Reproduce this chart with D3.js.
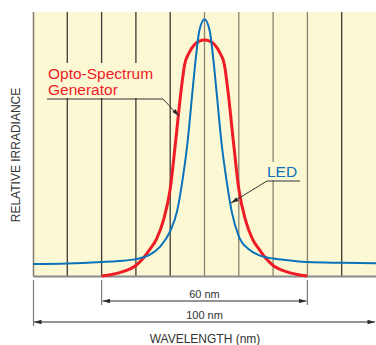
<!DOCTYPE html>
<html>
<head>
<meta charset="utf-8">
<script src="https://cdn.jsdelivr.net/npm/d3@7"></script>
<style>
  body { margin: 0; background: #fff; }
  svg { display: block; font-family: "Liberation Sans", Arial, sans-serif; }
</style>
</head>
<body>
<div id="chart"></div>
<script>
// wavelength (nm) and relative irradiance
var ledNm     = [0, 10, 20, 25, 30, 34, 37, 40, 42, 43.6, 45, 46.5, 47.4, 48.5, 50,
                 51.5, 52.6, 53.5, 55, 56.4, 58, 60, 63, 66, 70, 75, 80, 90, 100];
var ledValues = [0.045, 0.047, 0.053, 0.057, 0.064, 0.08, 0.11, 0.17, 0.245, 0.364, 0.5, 0.7, 0.818, 0.93, 0.973,
                 0.93, 0.818, 0.7, 0.5, 0.364, 0.24, 0.15, 0.1, 0.078, 0.066, 0.059, 0.053, 0.05, 0.048];

var optoNm     = [20, 23, 25, 28, 30, 32, 34, 36, 38, 40, 41.5, 43.2, 44.2, 45.5, 47.1, 48.5, 50,
                  51.5, 52.9, 54.5, 55.8, 56.8, 58.5, 60, 62, 64, 66, 68, 70, 72, 75, 77, 80];
var optoValues = [0, 0.006, 0.012, 0.025, 0.04, 0.065, 0.1, 0.14, 0.21, 0.33, 0.5, 0.705, 0.8, 0.845, 0.877, 0.89, 0.894,
                  0.89, 0.877, 0.845, 0.8, 0.705, 0.5, 0.33, 0.21, 0.14, 0.1, 0.065, 0.04, 0.025, 0.012, 0.006, 0];

var gridTicks = [0, 10, 20, 30, 40, 50, 60, 70, 80, 90];
var darkTicks = [10, 20, 30, 40, 90];

var spanLabels = ["60 nm", "100 nm"];
var spanFrom   = [20, 0];
var spanTo     = [80, 100];

var w = 376;
var h = 345;
var plotTop = 12, plotBottom = 276, plotLeft = 33, plotRight = 376;
var bg = "#fdf8d4";
var red = "#ee1c25";
var blue = "#0a72b8";

var x = d3.scaleLinear().domain([0, 100]).range([plotLeft, plotRight]);
var y = d3.scaleLinear().domain([0, 1]).range([plotBottom, plotTop]);

var svg = d3.select("#chart")
            .append("svg")
            .attr("width", w)
            .attr("height", h);

var defs = svg.append("defs");
defs.append("marker")
    .attr("id", "arrow")
    .attr("viewBox", "0 0 10 6")
    .attr("refX", 10)
    .attr("refY", 3)
    .attr("markerWidth", 8)
    .attr("markerHeight", 4.5)
    .attr("markerUnits", "userSpaceOnUse")
    .attr("orient", "auto-start-reverse")
    .append("path")
    .attr("d", "M0,0 L10,3 L0,6 z")
    .attr("fill", "#2b2b2b");

// plot background
svg.append("rect")
   .attr("x", plotLeft)
   .attr("y", plotTop)
   .attr("width", plotRight - plotLeft)
   .attr("height", plotBottom - plotTop)
   .attr("fill", bg);

// vertical grid lines
svg.selectAll("line.grid")
   .data(gridTicks)
   .enter()
   .append("line")
   .attr("class", "grid")
   .attr("x1", function(d) { return x(d) + (d === 0 ? 0.5 : 0); })
   .attr("x2", function(d) { return x(d) + (d === 0 ? 0.5 : 0); })
   .attr("y1", plotTop)
   .attr("y2", plotBottom)
   .attr("stroke", function(d) { return darkTicks.indexOf(d) >= 0 ? "#3c3a36" : "#8a8373"; })
   .attr("stroke-width", function(d) { return d === 0 ? 1.6 : 1.3; });

// bottom border
svg.append("line")
   .attr("x1", plotLeft)
   .attr("x2", plotRight)
   .attr("y1", plotBottom + 0.5)
   .attr("y2", plotBottom + 0.5)
   .attr("stroke", "#8a8a8a")
   .attr("stroke-width", 2);

// label backgrounds hide the grid
svg.append("rect")
   .attr("x", 44).attr("y", 63).attr("width", 122).attr("height", 35)
   .attr("fill", bg);
svg.append("rect")
   .attr("x", 265).attr("y", 162).attr("width", 37).attr("height", 18)
   .attr("fill", bg);

var line = d3.line()
             .x(function(d) { return x(d[0]); })
             .y(function(d) { return y(d[1]); })
             .curve(d3.curveMonotoneX);

svg.append("path")
   .attr("d", line(d3.zip(optoNm, optoValues)))
   .attr("fill", "none")
   .attr("stroke", red)
   .attr("stroke-width", 3);

svg.append("path")
   .attr("d", line(d3.zip(ledNm, ledValues)))
   .attr("fill", "none")
   .attr("stroke", blue)
   .attr("stroke-width", 2);

// curve labels
svg.append("text")
   .attr("x", 48).attr("y", 79)
   .attr("font-size", "15.5px")
   .attr("fill", red)
   .text("Opto-Spectrum");
svg.append("text")
   .attr("x", 48).attr("y", 95)
   .attr("font-size", "15.5px")
   .attr("fill", red)
   .text("Generator");
svg.append("polyline")
   .attr("points", "47,99 163,99 179,116")
   .attr("fill", "none")
   .attr("stroke", "#333")
   .attr("stroke-width", 1)
   .attr("marker-end", "url(#arrow)");

svg.append("text")
   .attr("x", 267).attr("y", 177)
   .attr("font-size", "15.5px")
   .attr("fill", blue)
   .text("LED");
svg.append("polyline")
   .attr("points", "300,181 267,181 231,203")
   .attr("fill", "none")
   .attr("stroke", "#333")
   .attr("stroke-width", 1)
   .attr("marker-end", "url(#arrow)");

// y axis title
svg.append("text")
   .attr("transform", "translate(20,155) rotate(-90)")
   .attr("text-anchor", "middle")
   .attr("font-size", "12px")
   .attr("fill", "#333")
   .text("RELATIVE IRRADIANCE");

// dimension lines
var spanY = [301, 322];
var extY = [305, 326];
svg.selectAll("line.ext")
   .data([0, 20, 80])
   .enter()
   .append("line")
   .attr("class", "ext")
   .attr("x1", function(d) { return x(d) + (d === 0 ? 0.5 : 0); })
   .attr("x2", function(d) { return x(d) + (d === 0 ? 0.5 : 0); })
   .attr("y1", 280)
   .attr("y2", function(d) { return d === 0 ? extY[1] : extY[0]; })
   .attr("stroke", "#7a7a7a")
   .attr("stroke-width", 1.2);

spanLabels.forEach(function(lbl, i) {
    svg.append("line")
       .attr("x1", x(spanFrom[i]) + 1)
       .attr("x2", x(spanTo[i]) - 1)
       .attr("y1", spanY[i])
       .attr("y2", spanY[i])
       .attr("stroke", "#2b2b2b")
       .attr("stroke-width", 1)
       .attr("marker-start", "url(#arrow)")
       .attr("marker-end", "url(#arrow)");
    svg.append("text")
       .attr("x", x((spanFrom[i] + spanTo[i]) / 2))
       .attr("y", spanY[i] - 3)
       .attr("text-anchor", "middle")
       .attr("font-size", "11px")
       .attr("fill", "#333")
       .text(lbl);
});

svg.append("text")
   .attr("x", 205)
   .attr("y", 343)
   .attr("text-anchor", "middle")
   .attr("font-size", "12px")
   .attr("fill", "#333")
   .text("WAVELENGTH (nm)");
</script>
</body>
</html>
